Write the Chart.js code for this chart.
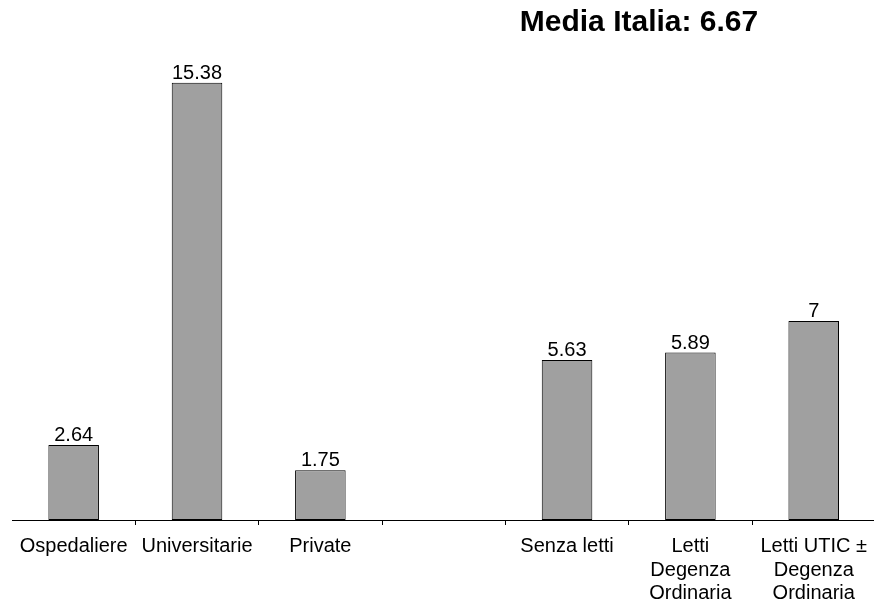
<!DOCTYPE html>
<html>
<head>
<meta charset="utf-8">
<script src="https://cdn.jsdelivr.net/npm/chart.js@4/dist/chart.umd.min.js"></script>
<style>
  html, body { margin: 0; padding: 0; background: #fff; overflow: hidden; }
  #wrap { width: 877px; height: 603px; }
</style>
</head>
<body>
<div id="wrap"><canvas id="chart"></canvas></div>
<script>
// categorie (la quarta è vuota, fa da separatore)
const categories = [
  'Ospedaliere',
  'Universitarie',
  'Private',
  '',
  'Senza letti',
  ['Letti', 'Degenza', 'Ordinaria'],
  ['Letti UTIC ±', 'Degenza', 'Ordinaria']
];
const values = [2.64, 15.38, 1.75, null, 5.63, 5.89, 7];
const valueLabels = ['2.64', '15.38', '1.75', '', '5.63', '5.89', '7'];
const titleText = 'Media Italia: 6.67';

const FONT = 'Arial, "Liberation Sans", sans-serif';

// etichette sopra le barre + titolo in alto a destra
const labelsPlugin = {
  id: 'valueLabels',
  afterDatasetsDraw(chart) {
    const ctx = chart.ctx;
    const meta = chart.getDatasetMeta(0);
    ctx.save();
    ctx.font = '20px ' + FONT;
    ctx.fillStyle = '#000';
    ctx.textAlign = 'center';
    ctx.textBaseline = 'alphabetic';
    meta.data.forEach((bar, i) => {
      if (values[i] == null) return;
      ctx.fillText(valueLabels[i], bar.x, bar.y - 4);
    });
    ctx.font = 'bold 30px ' + FONT;
    ctx.textBaseline = 'middle';
    ctx.fillText(titleText, 639, 23);
    ctx.restore();
  }
};

new Chart(document.getElementById('chart'), {
  type: 'bar',
  data: {
    labels: categories,
    datasets: [{
      data: values,
      backgroundColor: '#a0a0a0',
      borderColor: '#000',
      borderWidth: 1,
      borderSkipped: false,
      barPercentage: 0.41,
      categoryPercentage: 1
    }]
  },
  options: {
    responsive: true,
    maintainAspectRatio: false,
    animation: false,
    layout: { padding: { top: 65, left: 12, right: 0, bottom: 0 } },
    plugins: {
      legend: { display: false },
      tooltip: { enabled: false }
    },
    scales: {
      x: {
        offset: true,
        afterFit(scale) { scale.height = 83; },
        grid: {
          offset: true,
          drawOnChartArea: false,
          drawTicks: true,
          tickLength: 5,
          color: c => (c.index > 0 && c.index < 7) ? '#000' : 'rgba(0,0,0,0)'
        },
        border: { display: true, color: '#000', width: 1 },
        ticks: {
          autoSkip: false,
          maxRotation: 0,
          minRotation: 0,
          padding: 10,
          color: '#000',
          font: { family: FONT, size: 20, lineHeight: 1.17 }
        }
      },
      y: {
        display: false,
        min: 0,
        max: 16
      }
    }
  },
  plugins: [labelsPlugin]
});
</script>
</body>
</html>
